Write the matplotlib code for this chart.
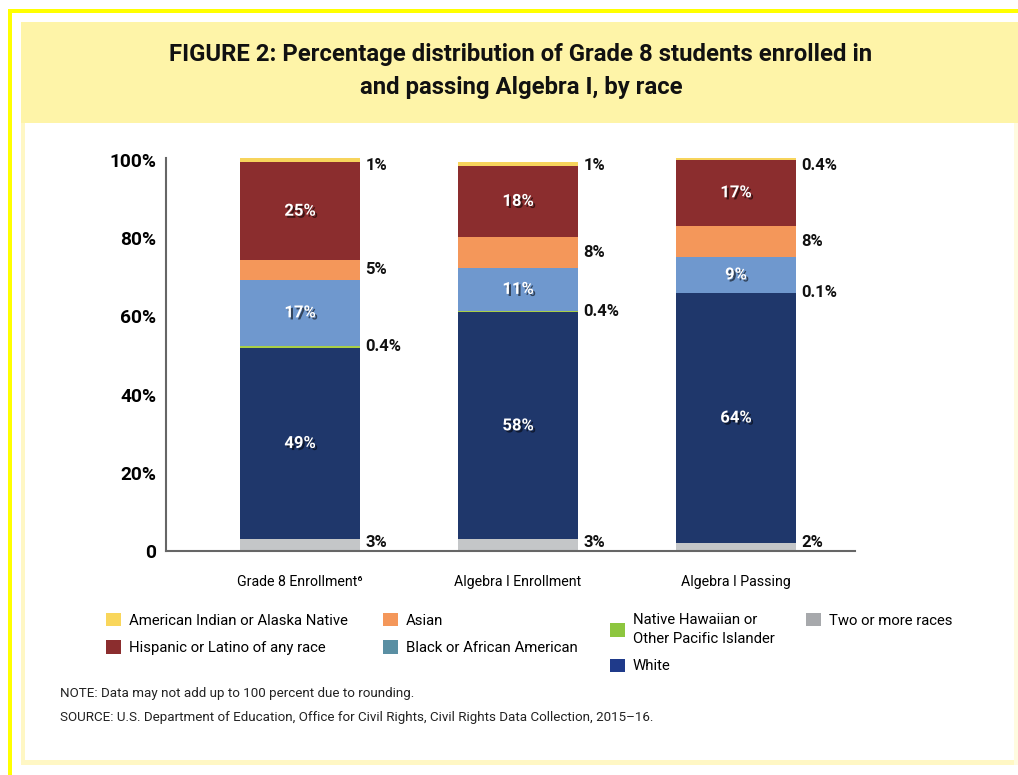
import numpy as np
import matplotlib.pyplot as plt
import matplotlib.patheffects as pe
from matplotlib.patches import Rectangle, Patch

plt.rcParams['font.family'] = ['Roboto', 'DejaVu Sans']

# data (percent of students), bottom to top of each bar
categories = ['Grade 8 Enrollment\u2076', 'Algebra I Enrollment', 'Algebra I Passing']
two_or_more = [3, 3, 2]
white = [49, 58, 64]
nhpi = [0.4, 0.4, 0.1]
black = [17, 11, 9]
asian = [5, 8, 8]
hispanic = [25, 18, 17]
am_indian = [1, 1, 0.4]

series = [two_or_more, white, nhpi, black, asian, hispanic, am_indian]
bar_colors = ['#c4c6c8', '#1f376b', '#a9cf46', '#6f98ce', '#f4975a', '#8b2d2e', '#f7d45c']
inside = [False, True, False, True, False, True, False]

legend_names = ['American Indian or Alaska Native', 'Hispanic or Latino of any race',
                'Asian', 'Black or African American',
                'Native Hawaiian or\nOther Pacific Islander', 'White',
                'Two or more races']
legend_colors = ['#f9d65b', '#8b2d2e', '#f4975a', '#5a8fa3', '#8dc63f', '#1f3a8a', '#a7a9ac']
legend_groups = [[0, 1], [2, 3], [4, 5], [6]]
legend_x = [106, 383, 610, 806]

fig = plt.figure(figsize=(10.18, 7.75), dpi=100)
W, H = 1018, 775

# background decoration in pixel coordinates
bg = fig.add_axes([0, 0, 1, 1], zorder=-1)
bg.set_xlim(0, W)
bg.set_ylim(H, 0)
bg.axis('off')
bg.add_patch(Rectangle((8, 9), W - 8, 4, color='#ffff00', lw=0))
bg.add_patch(Rectangle((8, 9), 4, H - 9, color='#ffff00', lw=0))
bg.add_patch(Rectangle((21, 22), W - 21, 101, color='#fef4a8', lw=0))
bg.add_patch(Rectangle((21, 123), 4, 642, color='#fff7c4', lw=0))
bg.add_patch(Rectangle((21, 760), W - 21, 5, color='#fff7c4', lw=0))
bg.add_patch(Rectangle((1014, 123), 4, 642, color='#fffbe0', lw=0))

bg.text(521, 71, 'FIGURE 2: Percentage distribution of Grade 8 students enrolled in\n'
        'and passing Algebra I, by race', ha='center', va='center',
        fontsize=17.2, fontweight='bold', linespacing=1.55, color='#111111')
bg.text(60, 694, 'NOTE: Data may not add up to 100 percent due to rounding.',
        ha='left', va='center', fontsize=9.6, color='#222222')
bg.text(60, 717, 'SOURCE: U.S. Department of Education, Office for Civil Rights, '
        'Civil Rights Data Collection, 2015\u201316.',
        ha='left', va='center', fontsize=9.6, color='#222222')

# main chart
ax = fig.add_axes([166 / W, 1 - 551 / H, (855 - 166) / W, 393 / H])
x = np.arange(len(categories))
bottom = np.zeros(len(categories))
shadow = [pe.withSimplePatchShadow(offset=(1.5, -1.5), shadow_rgbFace='black', alpha=0.55)]
for vals, color, inner in zip(series, bar_colors, inside):
    vals = np.array(vals, dtype=float)
    ax.bar(x, vals, width=0.55, bottom=bottom, color=color, linewidth=0)
    for xi, b, v in zip(x, bottom, vals):
        mid = b + v / 2
        txt = '{:g}%'.format(v)
        if inner:
            ax.text(xi, mid, txt, ha='center', va='center', color='white',
                    fontsize=12, fontweight='bold', path_effects=shadow)
        else:
            ax.text(xi + 0.3, np.clip(mid, 2.3, 98.7), txt, ha='left', va='center',
                    color='#111111', fontsize=12, fontweight='bold')
    bottom += vals

ax.set_xlim(-0.615, 2.546)
ax.set_ylim(0, 100.5)
ax.set_yticks([0, 20, 40, 60, 80, 100])
ax.set_yticklabels(['0', '20%', '40%', '60%', '80%', '100%'], fontsize=13.8, fontweight='bold')
ax.set_xticks(x)
ax.set_xticklabels(categories, fontsize=10.2)
ax.tick_params(axis='y', length=0, pad=7)
ax.tick_params(axis='x', length=0, pad=17)
for s in ['top', 'right']:
    ax.spines[s].set_visible(False)
ax.spines['left'].set_color('#666666')
ax.spines['bottom'].set_color('#666666')
ax.spines['left'].set_linewidth(1.5)
ax.spines['bottom'].set_linewidth(1.5)
ax.set_facecolor('none')

# legend, one column at a time so the columns line up at the top
for group, lx in zip(legend_groups, legend_x):
    handles = [Patch(facecolor=legend_colors[i], edgecolor='none') for i in group]
    leg = fig.legend(handles, [legend_names[i] for i in group], loc='upper left',
                     bbox_to_anchor=(lx / W, 1 - 613 / H), frameon=False, fontsize=10.7,
                     handlelength=1.0, handleheight=1.0, handletextpad=0.55,
                     labelspacing=0.85, borderpad=0, borderaxespad=0)
    for t in leg.get_texts():
        t.set_linespacing(1.45)

fig.savefig('out.png', dpi=100, facecolor='white')
